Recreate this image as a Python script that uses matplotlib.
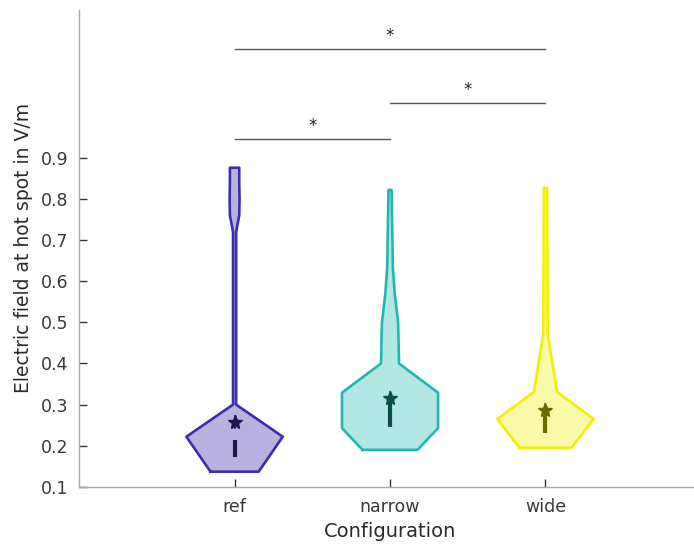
import numpy as np
import matplotlib
matplotlib.use('Agg')
from matplotlib import pyplot as plt

configs = ['ref', 'narrow', 'wide']

# violin outlines: field value (V/m) and half-width of density
ref_y = [0.137, 0.222, 0.300, 0.720, 0.760, 0.800, 0.840, 0.876]
ref_w = [0.155, 0.310, 0.010, 0.010, 0.030, 0.032, 0.030, 0.030]
narrow_y = [0.190, 0.243, 0.329, 0.400, 0.500, 0.570, 0.635, 0.822]
narrow_w = [0.177, 0.309, 0.309, 0.058, 0.052, 0.030, 0.018, 0.010]
wide_y = [0.195, 0.265, 0.331, 0.430, 0.475, 0.827]
wide_w = [0.167, 0.310, 0.075, 0.032, 0.014, 0.010]

means = [0.258, 0.316, 0.287]
q_low = [0.172, 0.245, 0.231]
q_high = [0.215, 0.316, 0.287]

# pairwise comparisons: (group a, group b, bar height)
pairs = [(0, 1, 0.946), (1, 2, 1.034), (0, 2, 1.165)]
sig_labels = ['*', '*', '*']

edge_colors = ['#3b2db0', '#1fb8b0', '#f0f000']
face_colors = ['#b9b1df', '#b3e7e4', '#f9f9a8']
mark_colors = ['#1c1550', '#0e4e4a', '#6a6a00']

profiles = [(ref_y, ref_w), (narrow_y, narrow_w), (wide_y, wide_w)]

fig = plt.figure(figsize=(6.94, 5.44), dpi=100)
ax = fig.add_axes([0.114, 0.105, 0.896, 0.877])

for i, (yy, ww) in enumerate(profiles):
    pos = i + 1
    yy = np.array(yy)
    ww = np.array(ww)
    ax.fill_betweenx(yy, pos - ww, pos + ww, facecolor=face_colors[i],
                     edgecolor='none', zorder=2)
    xs = np.concatenate([pos - ww, (pos + ww)[::-1], [pos - ww[0]]])
    ys = np.concatenate([yy, yy[::-1], [yy[0]]])
    ax.plot(xs, ys, color=edge_colors[i], lw=1.9, zorder=3)
    # interquartile bar and mean star
    ax.plot([pos, pos], [q_low[i], q_high[i]], color=mark_colors[i],
            lw=3, solid_capstyle='butt', zorder=4)
    ax.plot([pos, pos], [means[i] - 0.015, means[i] + 0.015],
            color=mark_colors[i], lw=1.2, zorder=4)
    ax.plot(pos, means[i], marker='*', ms=10, color=mark_colors[i], zorder=5)

for (a, b, h), lab in zip(pairs, sig_labels):
    ax.plot([a + 1, b + 1], [h, h], color='#555555', lw=1.0)
    ax.text((a + b) / 2 + 1, h + 0.032, lab, ha='center', va='center',
            fontsize=12, color='#222222')

ax.set_xlim(0, 4)
ax.set_ylim(0.1, 1.26)
ax.set_xticks([1, 2, 3])
ax.set_xticklabels(configs)
ax.set_yticks(np.arange(0.1, 0.95, 0.1))
ax.set_yticklabels(['%.1f' % v for v in np.arange(0.1, 0.95, 0.1)])

for s in ['top', 'right']:
    ax.spines[s].set_visible(False)
for s in ['left', 'bottom']:
    ax.spines[s].set_color('#aaaaaa')
    ax.spines[s].set_linewidth(1.0)

ax.tick_params(direction='in', length=6, width=1, color='#333333',
               labelsize=12.5, labelcolor='#3a3a3a', pad=8)
ax.set_xlabel('Configuration', fontsize=14, color='#2a2a2a', labelpad=4)
ax.set_ylabel('Electric field at hot spot in V/m', fontsize=13.5,
              color='#2a2a2a', labelpad=5)

fig.savefig('out.png', dpi=100)
